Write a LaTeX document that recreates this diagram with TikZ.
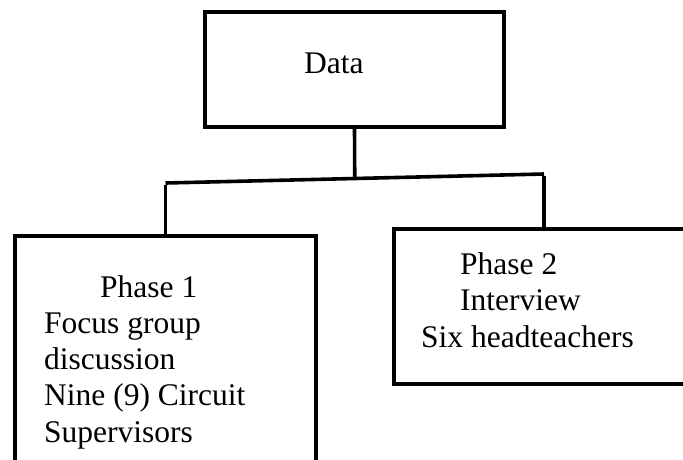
\documentclass[tikz,border=0pt]{standalone}
\usepackage{fontspec}
\setmainfont{Liberation Serif}
\usetikzlibrary{calc}
\begin{document}
\begin{tikzpicture}[x=1pt,y=-1pt,
  box/.style={draw=black,line width=4pt,rectangle,inner sep=0pt,outer sep=0pt,anchor=north west},
  conn/.style={draw=black,line width=3.6pt},
  txt/.style={font=\fontsize{31.5pt}{36.2pt}\selectfont,align=left,inner sep=0pt,anchor=base west}]
\useasboundingbox (0,0) rectangle (683,459);
\clip (0,0) rectangle (683,459);
\fill[white] (0,0) rectangle (683,459);
\node[box,minimum width=299pt,minimum height=115pt] (data) at (205,12) {};
\node[box,minimum width=301pt,minimum height=270pt] (p1) at (15,236) {};
\node[box,minimum width=300pt,minimum height=155pt] (p2) at (394,229) {};
\node[txt] (tdata) at (304,73) {Data};
\node[txt] (tp1) at (44,442) {\hspace*{56pt}Phase 1\\Focus group\\discussion\\Nine (9) Circuit\\Supervisors};
\node[txt] (tp2) at (421,347) {\hspace*{39pt}Phase 2\\\hspace*{39pt}Interview\\Six headteachers};
\coordinate (hl) at (165.5,183);
\coordinate (hr) at (544,174);
\coordinate (hm) at ($(hl)!0.5!(hr)$);
\draw[conn] (data.south) -- (hm);
\draw[conn] (hl) -- (hr);
\draw[conn] ([yshift=-1.8pt]hl) -- (p1.north);
\draw[conn] ([yshift=-1.8pt]hr) -- (p2.north);
\end{tikzpicture}
\end{document}
